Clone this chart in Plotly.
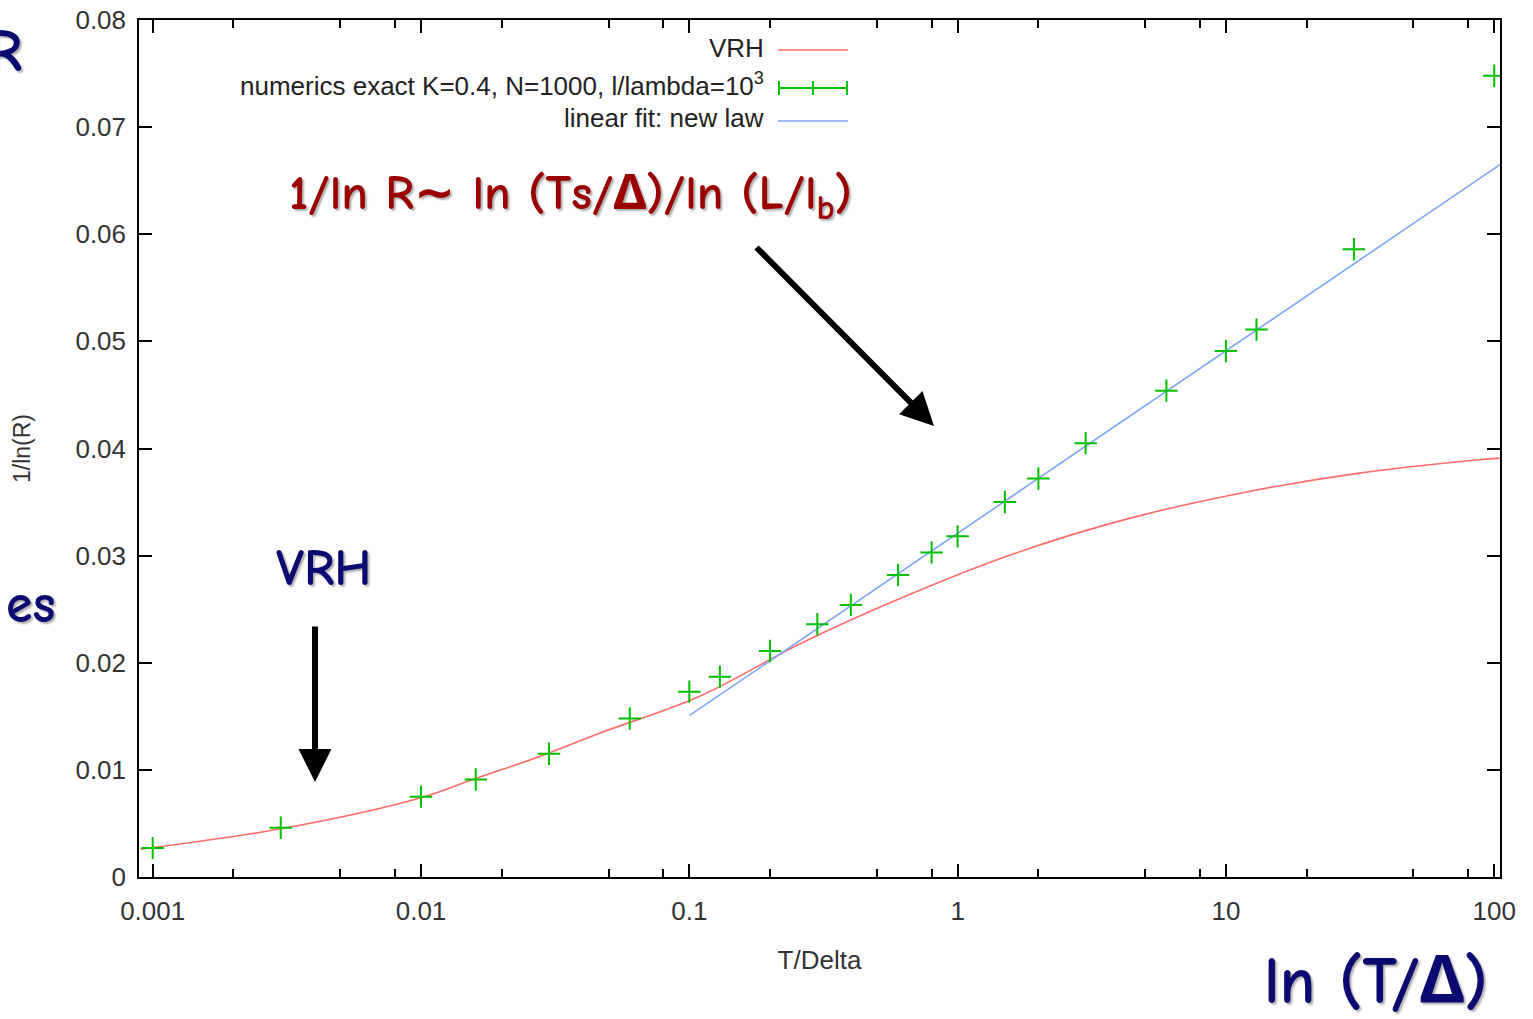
import plotly.graph_objects as go

# ---------------- data ----------------
num_x = [0.001, 0.003, 0.01, 0.016, 0.03, 0.06, 0.1, 0.13, 0.2, 0.3, 0.4, 0.6,
         0.8, 1, 1.5, 2, 3, 6, 10, 13, 30, 100]
num_y = [0.0027, 0.0046, 0.0075, 0.0091, 0.0115, 0.0148, 0.0173, 0.0187, 0.0211,
         0.0236, 0.0254, 0.0282, 0.0303, 0.0318, 0.0350, 0.0372, 0.0405, 0.0454,
         0.0491, 0.0511, 0.0586, 0.0748]

vrh_x = [0.0009, 0.003, 0.01, 0.0156, 0.028, 0.046, 0.11, 0.26, 0.61, 1.63,
         4.4, 11.7, 31.4, 84, 105]
vrh_y = [0.0026, 0.0045, 0.0074, 0.0091, 0.0113, 0.0134, 0.0169, 0.0218, 0.0260,
         0.0302, 0.0335, 0.0359, 0.0377, 0.0389, 0.0391]

fit_x = [0.1, 105]
fit_y = [0.01506, 0.0665]

x_tickvals = [0.001, 0.01, 0.1, 1, 10, 100]
x_ticktext = ["0.001", "0.01", "0.1", "1", "10", "100"]
x_minorvals = [m * d for d in [0.001, 0.01, 0.1, 1, 10] for m in (2, 5, 8)]
y_tickvals = [0, 0.01, 0.02, 0.03, 0.04, 0.05, 0.06, 0.07, 0.08]
y_ticktext = ["0", "0.01", "0.02", "0.03", "0.04", "0.05", "0.06", "0.07", "0.08"]

legend_labels = ["VRH", "numerics exact K=0.4, N=1000, l/lambda=10<sup>3</sup>",
                 "linear fit: new law"]

RED = "#ff6b6b"
GREEN = "#00c000"
BLUE = "#7ea7f5"
NAVY = "#0a0a70"
DARKRED = "#9a0000"

W, H = 1533, 1019
ML, MR, MT, MB = 139, 33, 20, 142
PW, PH = W - ML - MR, H - MT - MB


def px(x):
    return (x - ML) / PW


def py(y):
    return (H - MB - y) / PH


fig = go.Figure()
fig.add_trace(go.Scatter(x=vrh_x, y=vrh_y, mode="lines", line=dict(color=RED, width=1.6, shape="spline"),
                         name=legend_labels[0], showlegend=False))
fig.add_trace(go.Scatter(x=fit_x, y=fit_y, mode="lines", line=dict(color=BLUE, width=1.6),
                         name=legend_labels[2], showlegend=False))
fig.add_trace(go.Scatter(x=num_x, y=num_y, mode="markers",
                         marker=dict(symbol="cross-thin", size=16, line=dict(color=GREEN, width=2)),
                         name=legend_labels[1], showlegend=False))

SANS = "Liberation Sans, Arial, sans-serif"
tickfont = dict(family=SANS, size=26, color="#333333")
axis_common = dict(showline=True, linecolor="black", linewidth=1.5, mirror="allticks",
                   ticks="inside", ticklen=13, tickwidth=1.5, tickcolor="black",
                   showgrid=False, zeroline=False, tickfont=tickfont, automargin=False)

fig.update_xaxes(type="log", range=[-3.051, 2.0215], tickmode="array",
                 tickvals=x_tickvals, ticktext=x_ticktext, ticklabelstandoff=10,
                 minor=dict(tickmode="array", tickvals=x_minorvals, ticks="inside",
                            ticklen=8, tickwidth=1.5, tickcolor="black", showgrid=False),
                 title=dict(text="T/Delta", font=dict(family=SANS, size=26, color="#333333"),
                            standoff=26),
                 **axis_common)
fig.update_yaxes(range=[0, 0.08], tickmode="array", tickvals=y_tickvals, ticktext=y_ticktext,
                 ticklabelstandoff=6,
                 title=dict(text="1/ln(R)", font=dict(family=SANS, size=23, color="#333333"),
                            standoff=38),
                 **axis_common)

annotations = []
shapes = []
# manual gnuplot-style legend (text right, sample on right)
leg_rows = [48, 85, 118]
for lab, yy in zip(legend_labels, leg_rows):
    annotations.append(dict(xref="paper", yref="paper", x=px(766), y=py(yy), text=lab,
                            showarrow=False, xanchor="right", yanchor="middle",
                            font=dict(family=SANS, size=26, color="#222222")))
shapes.append(dict(type="line", xref="paper", yref="paper", x0=px(778), x1=px(848),
                   y0=py(50), y1=py(50), line=dict(color=RED, width=1.6)))
shapes.append(dict(type="line", xref="paper", yref="paper", x0=px(778), x1=px(848),
                   y0=py(88), y1=py(88), line=dict(color=GREEN, width=2)))
for xx in (779, 813, 847):
    shapes.append(dict(type="line", xref="paper", yref="paper", x0=px(xx), x1=px(xx),
                       y0=py(81), y1=py(95), line=dict(color=GREEN, width=2)))
shapes.append(dict(type="line", xref="paper", yref="paper", x0=px(778), x1=px(848),
                   y0=py(121), y1=py(121), line=dict(color=BLUE, width=1.6)))

hand = "Comic Neue, Comic Sans MS, Noto Sans, DejaVu Sans, sans-serif"
shadow = "2px 2px 2px #b0b0b0"
annotations += [
    dict(xref="paper", yref="paper", x=px(570), y=py(196),
         text="1/ln R\u223c ln (Ts/\u0394)/ln (L/l<sub>b</sub>)", showarrow=False,
         font=dict(family=hand, size=49, color=DARKRED, weight="bold", shadow=shadow),
         xanchor="center", yanchor="middle"),
    dict(xref="paper", yref="paper", x=px(323), y=py(568), text="VRH", showarrow=False,
         font=dict(family=hand, size=52, color=NAVY, weight="bold", shadow=shadow),
         xanchor="center", yanchor="middle"),
    dict(xref="paper", yref="paper", x=px(1376), y=py(982), text="ln (T/\u0394)", showarrow=False,
         font=dict(family=hand, size=66, color=NAVY, weight="bold", shadow=shadow),
         xanchor="center", yanchor="middle"),
    dict(xref="paper", yref="paper", x=px(24), y=py(52), text="R", showarrow=False,
         font=dict(family=hand, size=60, color=NAVY, weight="bold", shadow=shadow),
         xanchor="right", yanchor="middle"),
    dict(xref="paper", yref="paper", x=px(57), y=py(604), text="es", showarrow=False,
         font=dict(family=hand, size=54, color=NAVY, weight="bold", shadow=shadow),
         xanchor="right", yanchor="middle"),
    # arrows
    dict(xref="paper", yref="paper", x=px(934), y=py(426), ax=755 - 934, ay=246 - 426,
         axref="pixel", ayref="pixel", showarrow=True, arrowhead=2, arrowsize=1.1,
         arrowwidth=6, arrowcolor="black", text=""),
    dict(xref="paper", yref="paper", x=px(315), y=py(782), ax=0, ay=625 - 782,
         axref="pixel", ayref="pixel", showarrow=True, arrowhead=2, arrowsize=1.1,
         arrowwidth=6, arrowcolor="black", text=""),
]

fig.update_layout(width=W, height=H, margin=dict(l=ML, r=MR, t=MT, b=MB, pad=0),
                  paper_bgcolor="white", plot_bgcolor="white", showlegend=False,
                  annotations=annotations, shapes=shapes)

fig.write_html("out.html")
